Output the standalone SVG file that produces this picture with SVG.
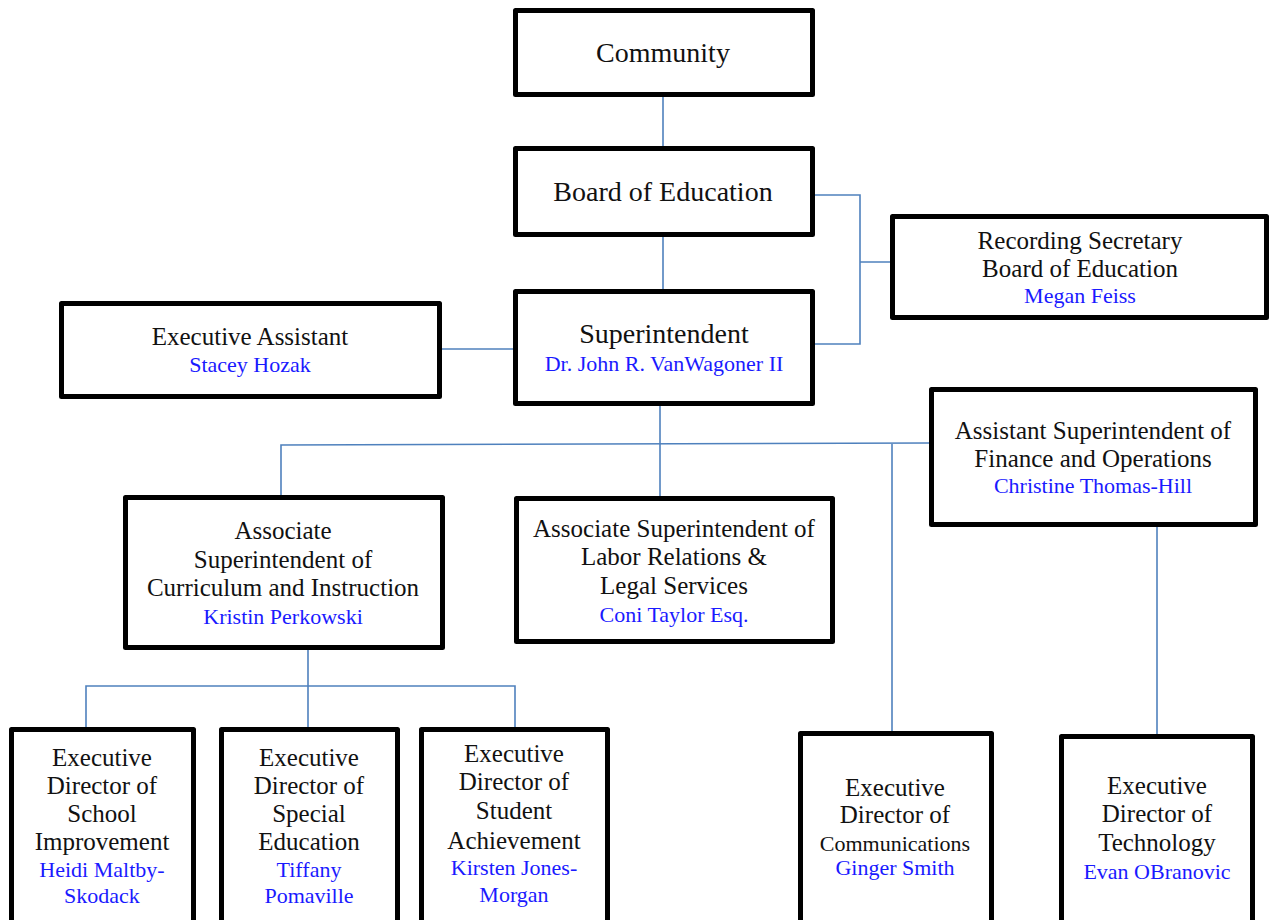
<svg xmlns="http://www.w3.org/2000/svg" width="1270" height="920" viewBox="0 0 1270 920">
<style>
.box{fill:#fff;stroke:#000;stroke-width:5;stroke-linejoin:round}
.ln{fill:none;stroke:#4f81bd;stroke-width:1.6}
text{font-family:"Liberation Serif","Times New Roman",serif;text-anchor:middle;fill:#111}
.t{font-size:25px}
.n{font-size:22px;fill:#1a1aff}
</style>
<rect width="1270" height="920" fill="#fff"/>
<g id="connectors">
<path class="ln" d="M663,97V146"/>
<path class="ln" d="M663,237V289"/>
<path class="ln" d="M815,195H860V344H815M860,262H890"/>
<path class="ln" d="M442,349H514"/>
<path class="ln" d="M660,406V496"/>
<path class="ln" d="M281,495V445L929,443"/>
<path class="ln" d="M892,444V731"/>
<path class="ln" d="M1157,527V734"/>
<path class="ln" d="M308,650V686M86,727V686H515V727M308,686V727"/>
</g>
<g id="community">
<rect class="box" x="515.5" y="10.5" width="297" height="84"/>
<text x="663" y="62" style="font-size:28px">Community</text>
</g>
<g id="board">
<rect class="box" x="515.5" y="148.5" width="297" height="86"/>
<text x="663" y="201" style="font-size:28px">Board of Education</text>
</g>
<g id="superintendent">
<rect class="box" x="515.5" y="291.5" width="297" height="112"/>
<text x="664" y="343" style="font-size:28px">Superintendent</text>
<text class="n" x="664" y="371">Dr. John R. VanWagoner II</text>
</g>
<g id="exec-assistant">
<rect class="box" x="61.5" y="303.5" width="378" height="93"/>
<text class="t" x="250" y="345">Executive Assistant</text>
<text class="n" x="250" y="372">Stacey Hozak</text>
</g>
<g id="recording-secretary">
<rect class="box" x="892.5" y="216.5" width="374" height="101"/>
<text class="t" x="1080" y="249">Recording Secretary</text>
<text class="t" x="1080" y="277">Board of Education</text>
<text class="n" x="1080" y="303">Megan Feiss</text>
</g>
<g id="asst-super-finance">
<rect class="box" x="931.5" y="389.5" width="324" height="135"/>
<text class="t" x="1093" y="439">Assistant Superintendent of</text>
<text class="t" x="1093" y="467">Finance and Operations</text>
<text class="n" x="1093" y="493">Christine Thomas-Hill</text>
</g>
<g id="assoc-super-curriculum">
<rect class="box" x="125.5" y="497.5" width="317" height="150"/>
<text class="t" x="283" y="539">Associate</text>
<text class="t" x="283" y="568">Superintendent of</text>
<text class="t" x="283" y="596">Curriculum and Instruction</text>
<text class="n" x="283" y="624">Kristin Perkowski</text>
</g>
<g id="assoc-super-labor">
<rect class="box" x="516.5" y="498.5" width="316" height="143"/>
<text class="t" x="674" y="537">Associate Superintendent of</text>
<text class="t" x="674" y="565">Labor Relations &amp;</text>
<text class="t" x="674" y="594">Legal Services</text>
<text class="n" x="674" y="622">Coni Taylor Esq.</text>
</g>
<g id="exec-dir-school-improvement">
<rect class="box" x="11.5" y="729.5" width="182" height="200"/>
<text class="t" x="102" y="766">Executive</text>
<text class="t" x="102" y="794">Director of</text>
<text class="t" x="102" y="822">School</text>
<text class="t" x="102" y="850">Improvement</text>
<text class="n" x="102" y="877">Heidi Maltby-</text>
<text class="n" x="102" y="903">Skodack</text>
</g>
<g id="exec-dir-special-education">
<rect class="box" x="221.5" y="729.5" width="176" height="200"/>
<text class="t" x="309" y="766">Executive</text>
<text class="t" x="309" y="794">Director of</text>
<text class="t" x="309" y="822">Special</text>
<text class="t" x="309" y="850">Education</text>
<text class="n" x="309" y="877">Tiffany</text>
<text class="n" x="309" y="903">Pomaville</text>
</g>
<g id="exec-dir-student-achievement">
<rect class="box" x="421.5" y="729.5" width="186" height="200"/>
<text class="t" x="514" y="762">Executive</text>
<text class="t" x="514" y="790">Director of</text>
<text class="t" x="514" y="819">Student</text>
<text class="t" x="514" y="849">Achievement</text>
<text class="n" x="514" y="875">Kirsten Jones-</text>
<text class="n" x="514" y="902">Morgan</text>
</g>
<g id="exec-dir-communications">
<rect class="box" x="800.5" y="733.5" width="191" height="200"/>
<text class="t" x="895" y="796">Executive</text>
<text class="t" x="895" y="823">Director of</text>
<text x="895" y="851" style="font-size:22px">Communications</text>
<text class="n" x="895" y="875">Ginger Smith</text>
</g>
<g id="exec-dir-technology">
<rect class="box" x="1061.5" y="736.5" width="191" height="200"/>
<text class="t" x="1157" y="794">Executive</text>
<text class="t" x="1157" y="822">Director of</text>
<text class="t" x="1157" y="851">Technology</text>
<text class="n" x="1157" y="879">Evan OBranovic</text>
</g>
</svg>
